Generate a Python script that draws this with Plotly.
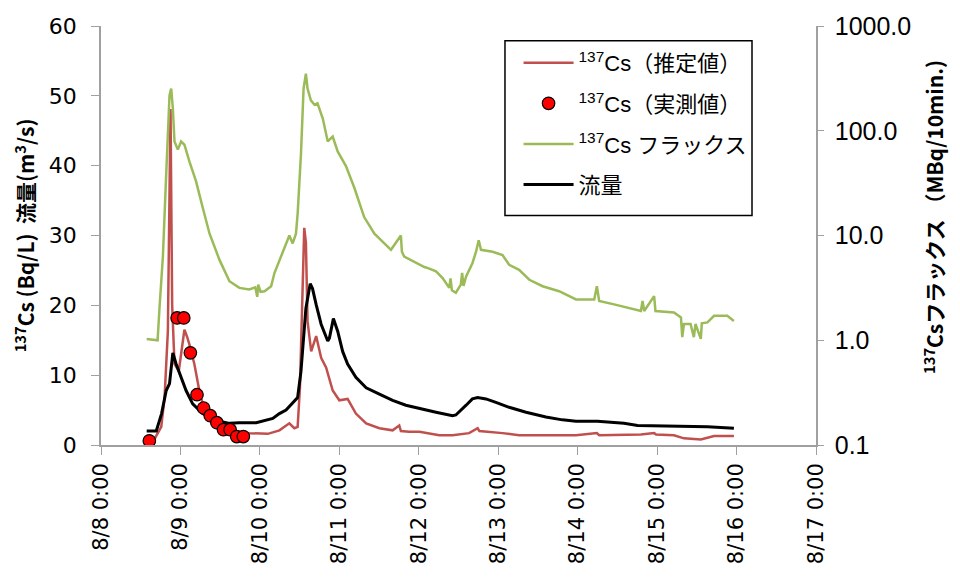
import pandas as pd
import plotly.graph_objects as go

# Time axis: hours elapsed since 8/8 0:00
BASE = pd.Timestamp("2011-08-08 00:00")

# 流量 (m3/s)
flow_h = [13.8, 16.7, 18.3, 19.7, 20.7, 21.7, 22.7, 23.7, 25.7, 27.7, 30.7, 34.8,
          38.8, 41.8, 46.9, 51.9, 53.9, 55.9, 57.9, 59.4, 60.4, 61.4, 61.9, 63.2,
          63.9, 65.0, 66.5, 68.5, 69.0, 70.2, 71.5, 73.0, 74.5, 77.0, 80.1, 84.1,
          88.1, 92.1, 96.2, 101.2, 106.2, 107.2, 110.3, 112.2, 113.8, 116.3, 119.3,
          123.3, 128.4, 134.4, 139.4, 143.5, 150.0, 158.0, 162.1, 173.1, 183.2, 191.2]
flow_v = [2.0, 2.0, 4.5, 7.8, 8.8, 13.2, 11.6, 10.4, 7.8, 5.9, 4.5, 3.5,
          3.1, 3.2, 3.2, 3.8, 4.5, 5.0, 6.1, 6.8, 10.5, 16.3, 19.6, 23.1,
          22.4, 20.1, 17.3, 14.9, 15.3, 18.1, 16.3, 13.4, 11.6, 9.7, 8.2, 7.3,
          6.4, 5.7, 5.2, 4.7, 4.2, 4.3, 5.7, 6.6, 6.8, 6.6, 6.1,
          5.4, 4.7, 4.0, 3.6, 3.4, 3.4, 3.1, 2.8, 2.7, 2.6, 2.4]

# 137Cs 推定値 (Bq/L)
cs_est_h = [13.8, 16.2, 18.2, 19.2, 20.2, 21.0, 21.5, 22.2, 23.5, 24.3, 25.2, 26.0,
            26.7, 28.2, 29.7, 31.2, 33.3, 35.8, 38.8, 44.8, 50.4, 53.9, 56.9, 58.4,
            59.4, 60.1, 60.9, 61.4, 61.9, 62.4, 63.5, 65.0, 66.5, 68.0, 70.0, 72.0,
            74.5, 77.0, 80.1, 84.1, 88.1, 90.1, 90.6, 93.1, 96.2, 102.2, 106.2, 111.2,
            113.8, 114.3, 121.3, 126.3, 143.5, 149.8, 150.5, 163.1, 167.1, 167.7,
            173.1, 176.1, 181.2, 185.2, 191.2]
cs_est_v = [0.8, 0.9, 2.6, 6.8, 16.3, 48.1, 20.0, 11.6, 10.6, 13.5, 16.5, 15.5,
            14.4, 11.6, 7.8, 5.0, 3.5, 2.6, 1.9, 1.7, 1.6, 2.1, 3.1, 2.4,
            2.6, 8.2, 22.4, 31.1, 29.0, 17.7, 13.4, 15.6, 12.5, 11.1, 7.8, 6.4,
            6.6, 4.5, 3.1, 2.4, 2.1, 2.8, 2.0, 1.9, 1.9, 1.4, 1.4, 1.7,
            2.4, 2.0, 1.7, 1.4, 1.4, 1.7, 1.4, 1.5, 1.7, 1.5,
            1.4, 0.95, 0.8, 1.3, 1.3]

# 137Cs 実測値 (Bq/L)
cs_obs_h = [14.6, 23.0, 25.0, 27.0, 29.0, 31.0, 33.0, 35.0, 37.0, 39.0, 41.0, 43.0]
cs_obs_v = [0.6, 18.2, 18.2, 13.2, 7.2, 5.3, 4.2, 3.2, 2.2, 2.2, 1.2, 1.2]

# 137Cs フラックス (MBq/10min.)
flux_h = [13.8, 17.1, 17.7, 18.7, 19.7, 20.7, 21.2, 21.7, 22.2, 23.2, 24.2, 25.2,
          26.7, 28.7, 30.7, 32.8, 35.8, 38.8, 41.8, 44.8, 46.6, 47.2, 47.5, 48.2,
          49.4, 51.4, 52.4, 54.4, 55.4, 56.9, 57.9, 58.9, 59.4, 60.4, 61.2, 61.9,
          62.4, 63.4, 64.5, 65.4, 67.0, 68.5, 70.0, 71.5, 74.0, 76.5, 79.5, 82.6,
          85.6, 87.6, 90.6, 90.9, 91.6, 95.6, 97.7, 98.8, 101.2, 103.2, 105.2, 105.6,
          106.0, 107.2, 108.7, 109.1, 109.5, 110.3, 112.2, 113.3, 114.1, 114.8, 118.3,
          121.3, 123.3, 126.3, 129.4, 133.4, 138.4, 143.5, 149.0, 149.8, 150.5, 155.0,
          159.0, 163.1, 163.6, 164.1, 167.1, 167.5, 173.1, 175.2, 175.6, 176.1,
          178.1, 179.1, 179.6, 181.2, 181.5, 183.2, 185.2, 189.2, 191.2]
flux_v = [1.03, 1.0, 2.1, 6.3, 38.5, 217, 253, 164, 79, 66, 79, 73.5,
          51, 33, 18.6, 10.4, 5.85, 3.66, 3.16, 3.05, 3.2, 2.6, 3.4, 2.9,
          2.94, 3.28, 4.38, 6.3, 7.8, 10.0, 8.4, 10.4, 16.1, 59.3, 253, 350,
          253, 195, 177, 183, 131, 79, 88, 63.5, 46, 28.7, 15, 10.4,
          8.4, 7.3, 10.0, 7.0, 6.3, 5.4, 5.0, 4.88, 4.54, 3.93, 3.16, 3.9,
          3.0, 2.84, 3.4, 4.4, 3.3, 4.07, 5.44, 7.0, 9.0, 7.3, 7.0,
          6.5, 5.25, 4.7, 3.78, 3.28, 2.94, 2.45, 2.45, 3.28, 2.37, 2.2,
          2.05, 1.9, 2.37, 1.9, 2.64, 1.9, 1.84, 1.65, 1.07, 1.43,
          1.43, 1.07, 1.43, 1.03, 1.45, 1.48, 1.71, 1.71, 1.53]

# Axis ticks
day_ticks = pd.date_range("2011-08-08", "2011-08-17", freq="D")
flux_ticks = [0.1, 1, 10, 100, 1000]
flux_tick_text = ["0.1", "1.0", "10.0", "100.0", "1000.0"]


def to_time(hours):
    return BASE + pd.to_timedelta(hours, unit="h")


AXIS_GRAY = "#a0a0a0"
JP_FONT = "Liberation Sans, Noto Sans CJK JP"

fig = go.Figure()

fig.add_trace(go.Scatter(
    x=to_time(cs_est_h), y=cs_est_v, mode="lines",
    line=dict(color="#c0504d", width=2.5),
    name="<sup>137</sup>Cs（推定値）", legendrank=1, legendgroup="a",
))
fig.add_trace(go.Scatter(
    x=to_time(flow_h), y=flow_v, mode="lines",
    line=dict(color="#000000", width=3),
    name="流量", legendrank=4, legendgroup="d",
))
fig.add_trace(go.Scatter(
    x=to_time(cs_obs_h), y=cs_obs_v, mode="markers",
    marker=dict(color="#ff0000", size=12.5, line=dict(color="#000000", width=1.2)),
    name="<sup>137</sup>Cs（実測値）", legendrank=2, legendgroup="b",
))
fig.add_trace(go.Scatter(
    x=to_time(flux_h), y=flux_v, mode="lines", yaxis="y2",
    line=dict(color="#9bbb59", width=2.5),
    name="<sup>137</sup>Cs フラックス", legendrank=3, legendgroup="c",
))

# Legend frame
fig.add_shape(
    type="rect", xref="paper", yref="paper",
    x0=0.5650, x1=0.9105, y0=0.548, y1=0.965,
    line=dict(color="#000000", width=1.5), fillcolor="white", layer="below",
)

# Right-hand axis title
fig.add_annotation(
    xref="paper", yref="paper", x=1.164, y=0.545,
    text="<b><sup>137</sup>Csフラックス （MBq/10min.)</b>",
    textangle=-90, showarrow=False, xanchor="center", yanchor="middle",
    font=dict(family="Noto Sans CJK JP", size=21),
)

fig.update_layout(
    width=960, height=579,
    margin=dict(l=101, r=144, t=20, b=134),
    paper_bgcolor="white", plot_bgcolor="white",
    font=dict(family=JP_FONT, color="#000000"),
    showlegend=True,
    legend=dict(
        x=0.584, y=0.962, xanchor="left", yanchor="top",
        borderwidth=0, bgcolor="rgba(0,0,0,0)",
        font=dict(size=22, family=JP_FONT),
        traceorder="grouped", tracegroupgap=9, itemwidth=50,
    ),
    xaxis=dict(
        type="date",
        range=[day_ticks[0], day_ticks[-1]],
        tickvals=list(day_ticks), tickformat="%-m/%-d %-H:%M",
        tickangle=-90, ticks="outside", ticklen=8, tickcolor=AXIS_GRAY,
        showline=True, linecolor=AXIS_GRAY, linewidth=1.5,
        showgrid=False, zeroline=False,
        tickfont=dict(family="DejaVu Sans", size=21),
    ),
    yaxis=dict(
        range=[0, 60], dtick=10, tick0=0,
        ticks="outside", ticklen=8, tickcolor=AXIS_GRAY,
        showline=True, linecolor=AXIS_GRAY, linewidth=1.5,
        showgrid=False, zeroline=False,
        tickfont=dict(family="DejaVu Sans", size=22),
        ticklabelstandoff=10,
        title=dict(
            text="<b><sup>137</sup>Cs (Bq/L)  流量(m<sup>3</sup>/s)</b>",
            font=dict(family="Noto Sans CJK JP", size=21),
            standoff=8,
        ),
    ),
    yaxis2=dict(
        type="log", range=[-1, 3], overlaying="y", side="right",
        tickvals=flux_ticks, ticktext=flux_tick_text,
        ticks="outside", ticklen=6, tickcolor=AXIS_GRAY,
        showline=True, linecolor=AXIS_GRAY, linewidth=1.5,
        showgrid=False, zeroline=False,
        tickfont=dict(family="Liberation Sans", size=25),
        ticklabelstandoff=6,
    ),
)

fig.write_html("out.html")
